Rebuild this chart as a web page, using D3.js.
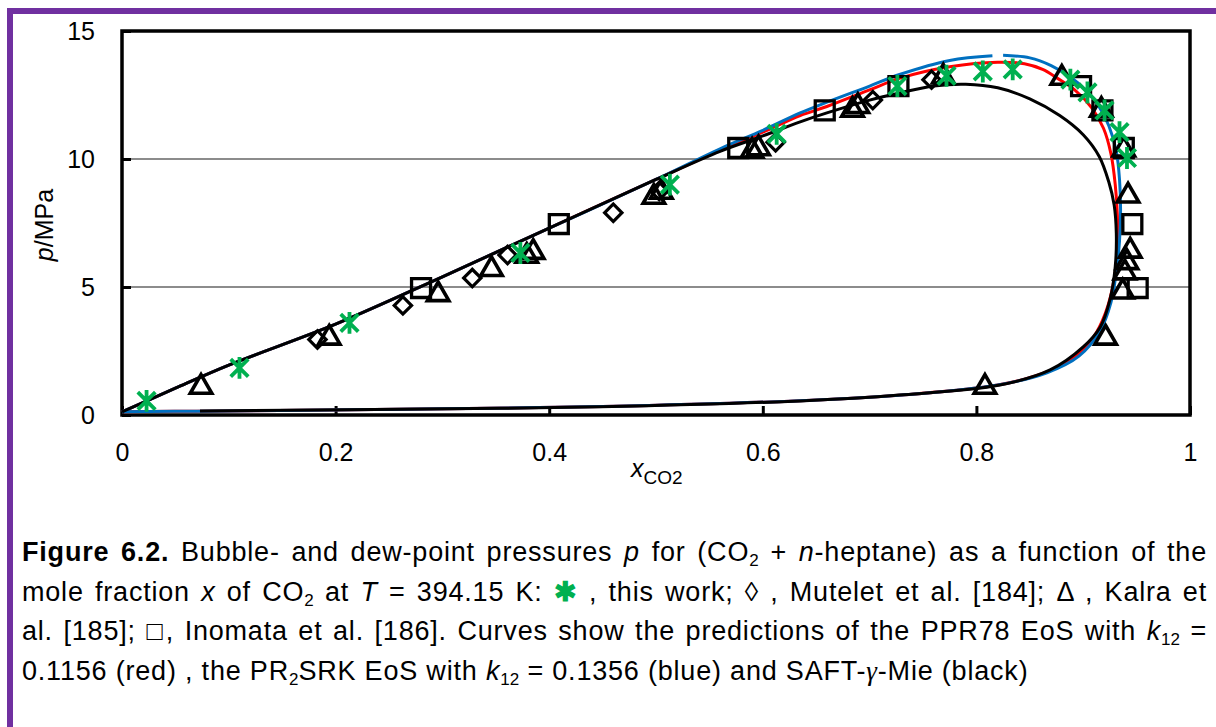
<!DOCTYPE html>
<html>
  <head>
    <title>Bubble and dew point pressures CO2 + n-heptane</title>
    <script src="https://d3js.org/d3.v7.min.js"></script>
    <style>
      body { margin: 0; background: #fff; }
      #wrap { position: relative; width: 1216px; height: 727px; overflow: hidden; }
      #caption {
        position: absolute; left: 22px; top: 533px; width: 1185px;
        font-family: "Liberation Sans", Arial, sans-serif; font-size: 27px;
        letter-spacing: 0.8px; line-height: 39.5px; color: #000;
      }
      #caption .j { text-align: justify; text-align-last: justify; white-space: nowrap; }
      #caption sub { font-size: 17px; vertical-align: -5px; line-height: 0; letter-spacing: 0; }
      .g { color: #00b050; font-weight: bold; }
      .gam { font-family: "Liberation Serif", serif; font-style: italic; }
    </style>
  </head>
  <body>
    <div id="wrap">
      <svg id="chart" width="1216" height="727"></svg>
      <div id="caption">
        <div class="j"><b>Figure 6.2.</b> Bubble- and dew-point pressures <i>p</i> for (CO<sub>2</sub> + <i>n</i>-heptane) as a function of the</div>
        <div class="j">mole fraction <i>x</i> of CO<sub>2</sub> at <i>T</i> = 394.15 K: <span class="g">&#x2731;</span> , this work; &#x25CA; , Mutelet et al. [184]; &#x0394; , Kalra et</div>
        <div class="j">al. [185]; &#x25A1;, Inomata et al. [186]. Curves show the predictions of the PPR78 EoS with <i>k</i><sub>12</sub> =</div>
        <div>0.1156 (red) , the PR<sub>2</sub>SRK EoS with <i>k</i><sub>12</sub> = 0.1356 (blue) and SAFT-<span class="gam">&#x03B3;</span>-Mie (black)</div>
      </div>
    </div>
    <script>
      // experimental data [x CO2, p / MPa]
      let thisWork = [
        [0.023, 0.55], [0.110, 1.84], [0.213, 3.6], [0.373, 6.33], [0.513, 9.0],
        [0.613, 10.98], [0.726, 12.85], [0.772, 13.25], [0.806, 13.42], [0.834, 13.5],
        [0.888, 13.1], [0.904, 12.6], [0.920, 11.9], [0.934, 11.05], [0.941, 10.04]
      ];
      let mutelet = [
        [0.183, 2.95], [0.263, 4.28], [0.328, 5.35], [0.361, 6.25], [0.460, 7.9],
        [0.503, 8.75], [0.612, 10.65], [0.703, 12.3], [0.758, 13.1]
      ];
      let kalra = [
        [0.074, 1.13], [0.194, 3.05], [0.296, 4.75], [0.346, 5.73], [0.379, 6.25],
        [0.385, 6.4], [0.498, 8.55], [0.505, 8.75], [0.590, 10.35], [0.596, 10.45],
        [0.684, 11.95], [0.689, 12.1], [0.769, 13.25], [0.880, 13.2], [0.917, 11.95],
        [0.938, 10.4], [0.942, 8.6], [0.944, 6.45], [0.941, 6.0], [0.939, 5.6],
        [0.937, 4.85], [0.921, 3.05], [0.808, 1.13]
      ];
      let inomata = [
        [0.280, 4.96], [0.409, 7.46], [0.577, 10.43], [0.658, 11.9], [0.727, 12.85],
        [0.898, 12.85], [0.918, 11.9], [0.938, 10.43], [0.946, 7.46], [0.951, 4.96]
      ];

      // model curves, traced along bubble branch then dew branch
      let ppr78 = [
        [0, 0.12], [0.05, 1.05], [0.1, 1.95], [0.2, 3.55], [0.3, 5.4], [0.4, 7.3],
        [0.5, 9.2], [0.56, 10.35], [0.6, 11.05], [0.635, 11.7], [0.66, 12.05], [0.7, 12.7],
        [0.728, 13.15], [0.775, 13.6], [0.82, 13.78], [0.845, 13.72], [0.862, 13.5],
        [0.876, 13.15], [0.892, 12.7], [0.908, 12.0], [0.919, 11.2], [0.926, 10.2],
        [0.93, 9.0], [0.932, 7.8], [0.932, 6.5], [0.929, 5.3], [0.921, 4.0], [0.909, 3.0],
        [0.89, 2.2], [0.862, 1.62], [0.82, 1.17], [0.73, 0.78], [0.63, 0.55], [0.45, 0.33],
        [0.26, 0.22], [0.07, 0.15], [0, 0.13]
      ];
      let pr2srkBubble = [
        [0, 0.12], [0.05, 1.05], [0.1, 1.95], [0.2, 3.55], [0.3, 5.4], [0.4, 7.3],
        [0.5, 9.2], [0.56, 10.4], [0.6, 11.12], [0.635, 11.8], [0.66, 12.22], [0.7, 12.85],
        [0.728, 13.3], [0.775, 13.85], [0.815, 14.03]
      ];
      let pr2srkDew = [
        [0.825, 14.05], [0.85, 13.95], [0.87, 13.65], [0.888, 13.2], [0.902, 12.7],
        [0.914, 12.1], [0.924, 11.3], [0.931, 10.3], [0.934, 9.2], [0.935, 8.0],
        [0.934, 6.8], [0.931, 5.6], [0.926, 4.4], [0.916, 3.3], [0.896, 2.3],
        [0.866, 1.65], [0.82, 1.17], [0.73, 0.78], [0.63, 0.55], [0.45, 0.33],
        [0.26, 0.22], [0.07, 0.15], [0, 0.13]
      ];
      let saft = [
        [0, 0.12], [0.05, 1.05], [0.1, 1.95], [0.2, 3.55], [0.3, 5.4], [0.4, 7.3],
        [0.5, 9.2], [0.56, 10.3], [0.6, 10.9], [0.635, 11.45], [0.66, 11.8], [0.7, 12.3],
        [0.728, 12.58], [0.76, 12.85], [0.79, 12.92], [0.82, 12.78], [0.85, 12.35],
        [0.878, 11.7], [0.9, 10.95], [0.915, 10.1], [0.924, 9.1], [0.929, 8.2],
        [0.931, 7.1], [0.93, 5.8], [0.925, 4.5], [0.916, 3.44], [0.9, 2.66], [0.869, 1.76],
        [0.822, 1.17], [0.728, 0.78], [0.635, 0.55], [0.448, 0.32], [0.26, 0.22], [0.073, 0.16]
      ];

      let xTicks = [0, 0.2, 0.4, 0.6, 0.8, 1];
      let yTicks = [0, 5, 10, 15];
      let gridValues = [5, 10];

      let svg = d3.select("#chart");
      let plotL = 122, plotR = 1190, plotT = 31, plotB = 415;

      let x = d3.scaleLinear().domain([0, 1]).range([plotL, plotR]);
      let y = d3.scaleLinear().domain([0, 15]).range([plotB, plotT]);

      // purple frame
      svg.append("rect").attr("x", 7).attr("y", 8).attr("width", 1209).attr("height", 6).attr("fill", "#7030a0");
      svg.append("rect").attr("x", 7).attr("y", 8).attr("width", 6).attr("height", 719).attr("fill", "#7030a0");

      // gridlines
      svg.selectAll(".grid")
        .data(gridValues)
        .enter()
        .append("line")
        .attr("x1", plotL).attr("x2", plotR)
        .attr("y1", (d) => y(d)).attr("y2", (d) => y(d))
        .attr("stroke", "#8c8c8c")
        .attr("stroke-width", 2);

      // axes
      let yAxis = svg.append("g")
        .attr("transform", `translate(${plotL},0)`)
        .call(d3.axisLeft(y).tickValues(yTicks).tickSizeInner(-9).tickSizeOuter(0).tickPadding(27));
      let xAxis = svg.append("g")
        .attr("transform", `translate(0,${plotB})`)
        .call(d3.axisBottom(x).tickValues(xTicks).tickFormat(d3.format("~g")).tickSizeInner(-9).tickSizeOuter(0).tickPadding(28));
      [yAxis, xAxis].forEach((a) => {
        a.select(".domain").remove();
        a.selectAll("line").attr("stroke", "#000").attr("stroke-width", 3);
        a.selectAll("text")
          .attr("fill", "#000")
          .style("font-family", "Liberation Sans, Arial, sans-serif")
          .style("font-size", "25px");
      });

      // plot frame
      svg.append("rect")
        .attr("x", plotL).attr("y", plotT)
        .attr("width", plotR - plotL).attr("height", plotB - plotT)
        .attr("fill", "none").attr("stroke", "#000").attr("stroke-width", 3.5);

      // axis titles
      let yt = svg.append("text")
        .attr("transform", `translate(53,${(plotT + plotB) / 2 + 2}) rotate(-90)`)
        .attr("text-anchor", "middle")
        .style("font-family", "Liberation Sans, Arial, sans-serif")
        .style("font-size", "25px");
      yt.append("tspan").style("font-style", "italic").text("p");
      yt.append("tspan").text("/MPa");

      let xt = svg.append("text")
        .attr("x", 631).attr("y", 477)
        .style("font-family", "Liberation Sans, Arial, sans-serif")
        .style("font-size", "25px");
      xt.append("tspan").style("font-style", "italic").text("x");
      xt.append("tspan").attr("dy", 7).style("font-size", "19px").text("CO2");

      // model curves
      let line = d3.line()
        .x((d) => x(d[0]))
        .y((d) => y(d[1]))
        .curve(d3.curveCatmullRom.alpha(0.5));

      let curves = [
        { data: ppr78, color: "#ff0000" },
        { data: pr2srkBubble, color: "#0070c0" },
        { data: pr2srkDew, color: "#0070c0" },
        { data: saft, color: "#000000" }
      ];
      svg.selectAll(".curve")
        .data(curves)
        .enter()
        .append("path")
        .attr("d", (d) => line(d.data))
        .attr("fill", "none")
        .attr("stroke", (d) => d.color)
        .attr("stroke-width", 3)
        .attr("stroke-linejoin", "round");

      // experimental markers
      let diamond = d3.symbol().type(d3.symbolSquare).size(150);
      svg.selectAll(".mut")
        .data(mutelet)
        .enter()
        .append("path")
        .attr("d", diamond)
        .attr("transform", (d) => `translate(${x(d[0])},${y(d[1])}) rotate(45)`)
        .attr("fill", "none").attr("stroke", "#000").attr("stroke-width", 3.2);

      let tri = d3.symbol().type(d3.symbolTriangle).size(200);
      svg.selectAll(".kal")
        .data(kalra)
        .enter()
        .append("path")
        .attr("d", tri)
        .attr("transform", (d) => `translate(${x(d[0])},${y(d[1]) + 1})`)
        .attr("fill", "none").attr("stroke", "#000").attr("stroke-width", 3.6)
        .attr("stroke-linejoin", "miter");

      let sq = d3.symbol().type(d3.symbolSquare).size(360);
      svg.selectAll(".ino")
        .data(inomata)
        .enter()
        .append("path")
        .attr("d", sq)
        .attr("transform", (d) => `translate(${x(d[0])},${y(d[1])})`)
        .attr("fill", "none").attr("stroke", "#000").attr("stroke-width", 3.3);

      let asterisk = {
        draw(ctx, size) {
          let r = Math.sqrt(size) / 2;
          let d = r * 0.8;
          ctx.moveTo(0, -r); ctx.lineTo(0, r);
          ctx.moveTo(-d, -d); ctx.lineTo(d, d);
          ctx.moveTo(-d, d); ctx.lineTo(d, -d);
        }
      };
      svg.selectAll(".tw")
        .data(thisWork)
        .enter()
        .append("path")
        .attr("d", d3.symbol().type(asterisk).size(480))
        .attr("transform", (d) => `translate(${x(d[0])},${y(d[1])})`)
        .attr("fill", "none").attr("stroke", "#00b050").attr("stroke-width", 3.8);
    </script>
  </body>
</html>
